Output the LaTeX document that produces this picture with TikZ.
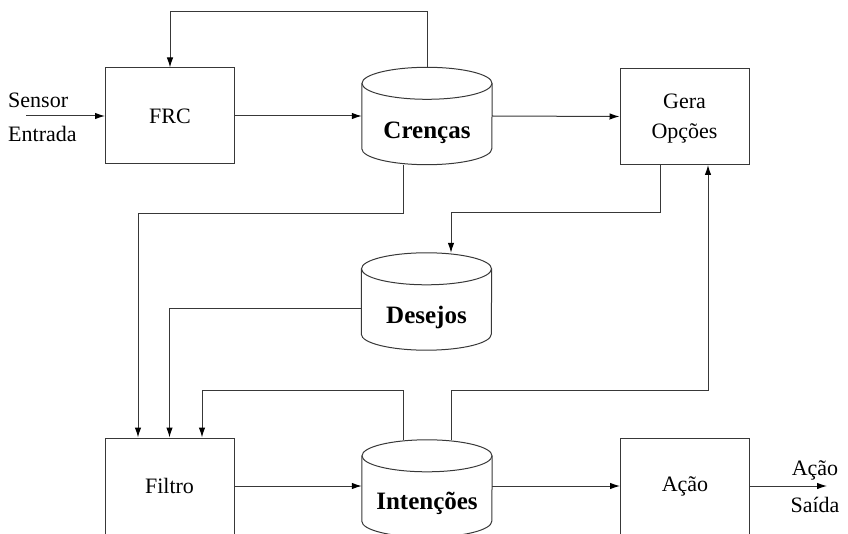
\documentclass[tikz,border=0pt]{standalone}
\usepackage{fontspec}
\setmainfont{Liberation Serif}
\usetikzlibrary{arrows.meta,calc}
\newcommand\dbcyl[1]{%
 \draw[ln] ($(#1.north)+(0,16)$) ellipse [x radius=65pt, y radius=16pt];
 \draw[ln] ($(#1.north west)+(0,16)$) -- ($(#1.south west)+(0,-16)$) arc[start angle=180,end angle=360,x radius=65pt,y radius=16pt] -- ($(#1.north east)+(0,16)$);
}
\begin{document}
\begin{tikzpicture}[x=1pt,y=-1pt,
  ln/.style={draw=black!78,line width=1pt},
  arr/.style={ln,-{Latex[length=10pt,width=6.5pt,color=black]}},
  blk/.style={draw=black!78,line width=1pt,minimum width=129pt,minimum height=96pt,inner sep=0pt,align=center,font=\fontsize{22}{30}\selectfont},
  dbb/.style={minimum width=130pt,minimum height=97pt,inner sep=0pt},
  reg/.style={font=\fontsize{22}{26}\selectfont,inner sep=0pt},
  bld/.style={font=\fontsize{25}{28}\selectfont\bfseries,inner sep=0pt}]
\useasboundingbox (0,0) rectangle (848,534);
\clip (0,0) rectangle (848,534);
% boxes
\node[blk] (frc) at (170,116) {FRC};
\node[blk] (gera) at (684.5,116.5) {};
\node[reg,align=center,font=\fontsize{22}{30}\selectfont] (geraT) at ($(gera.center)+(0,2)$) {Gera\\Opções};
\node[blk] (filtro) at (169.5,486) {Filtro};
\node[blk] (acao) at (685,486) {Ação};
% databases
\node[dbb] (cren) at (427,116) {};
\node[dbb] (des) at (426.5,301.5) {};
\node[dbb] (int) at (427,488.5) {};
\dbcyl{cren}
\dbcyl{des}
\dbcyl{int}
\node[bld] (crenT) at ($(cren.center)+(0,17)$) {Crenças};
\node[bld] (desT) at ($(des.center)+(0,16)$) {Desejos};
\node[bld] (intT) at ($(int.center)+(0,15)$) {Intenções};
% outside texts
\node[reg,anchor=west] (sensor) at (8,100) {Sensor};
\node[reg,anchor=west] (entrada) at (8,134) {Entrada};
\node[reg] (acaoout) at (815,470) {Ação};
\node[reg] (saida) at (815,505) {Saída};
\coordinate (sin) at (26,116);
\coordinate (sout) at (827,486);
% connectors
\draw[arr] (sin) -- (frc.west);
\draw[arr] (cren.north) -- ++(0,-56) -| (frc.north);
\draw[arr] (frc.east) -- (cren.west);
\draw[arr] (cren.east) -- (gera.west);
\draw[arr] ([xshift=-24pt]cren.south) -- ++(0,49) -| ([xshift=-31.5pt]filtro.north);
\draw[arr] ([xshift=-24.5pt]gera.south) -- ++(0,48) -| ([xshift=24.5pt]des.north);
\draw[arr] ($(des.west)+(0,7.5)$) -| (filtro.north);
\draw[arr] ([xshift=-24pt]int.north) -- ++(0,-49) -| ([xshift=32.5pt]filtro.north);
\draw[arr] ([xshift=24pt]int.north) -- ++(0,-49) -| ([xshift=23.5pt]gera.south);
\draw[arr] (filtro.east) -- (filtro.east -| int.west);
\draw[arr] (int.east |- acao.west) -- (acao.west);
\draw[arr] (acao.east) -- (sout);
\end{tikzpicture}
\end{document}
